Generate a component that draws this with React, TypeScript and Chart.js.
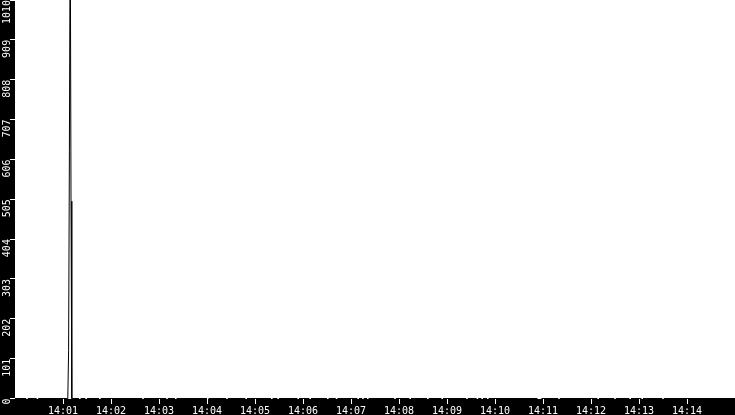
import React, { useEffect, useRef } from "react";
import Chart from "chart.js/auto";

// seconds after 14:00:00 and the value at that second (null = dropout)
const sampleSeconds = [
  0, 14, 15, 16, 27, 28, 29, 66, 67, 68, 69, 70, 71, 80, 81, 82, 88, 89, 90,
  105, 106, 107, 159, 160, 161, 189, 190, 191, 200, 201, 202, 240, 241, 242,
  264, 265, 266, 288, 289, 290, 320, 321, 322, 328, 329, 330, 353, 354, 355,
  368, 369, 370, 390, 391, 392, 401, 402, 403, 428, 429, 430, 434, 435, 436,
  440, 441, 442, 474, 475, 476, 493, 494, 495, 515, 516, 517, 533, 534, 535,
  564, 565, 566, 577, 578, 579, 583, 584, 585, 590, 591, 592, 653, 654, 655,
  656, 657, 658, 679, 680, 681, 728, 729, 730, 749, 750, 751, 768, 769, 770,
  783, 784, 785, 809, 810, 811, 900,
];

const sampleValues: (number | null)[] = [
  0, 0, null, 0, 0, null, 0, 0, 121, 625, 1250, 500, 0, 0, null, 0, 0, null, 0,
  0, null, 0, 0, null, 0, 0, null, 0, 0, null, 0, 0, null, 0,
  0, null, 0, 0, null, 0, 0, null, 0, 0, null, 0, 0, null, 0,
  0, null, 0, 0, null, 0, 0, null, 0, 0, null, 0, 0, null, 0,
  0, null, 0, 0, null, 0, 0, null, 0, 0, null, 0, 0, null, 0,
  0, null, 0, 0, null, 0, 0, null, 0, 0, null, 0, 0, null, 0,
  0, null, 0, 0, null, 0, 0, null, 0, 0, null, 0, 0, null, 0,
  0, null, 0, 0, null, 0, 0,
];

const xTickLabels = [
  "14:01", "14:02", "14:03", "14:04", "14:05", "14:06", "14:07",
  "14:08", "14:09", "14:10", "14:11", "14:12", "14:13", "14:14",
];

const yTicks = [0, 101, 202, 303, 404, 505, 606, 707, 808, 909, 1010];

const plotBackground = {
  id: "plotBackground",
  beforeDraw(chart: Chart) {
    const { ctx, chartArea: a } = chart;
    ctx.save();
    ctx.fillStyle = "#ffffff";
    ctx.fillRect(a.left, a.top, a.right - a.left, a.bottom - a.top);
    ctx.restore();
  },
};

export default function App() {
  const canvasRef = useRef<HTMLCanvasElement>(null);

  useEffect(() => {
    document.body.style.margin = "0";
    if (!canvasRef.current) return;

    const points = sampleSeconds.map((s, i) => ({ x: s, y: sampleValues[i] }));
    const font = { family: "DejaVu Sans Mono", size: 10 };

    const chart = new Chart(canvasRef.current, {
      type: "line",
      data: {
        datasets: [
          {
            data: points,
            borderColor: "#000000",
            borderWidth: 1,
            pointRadius: 0,
            tension: 0,
            spanGaps: false,
          },
        ],
      },
      options: {
        animation: false,
        responsive: true,
        maintainAspectRatio: false,
        layout: { padding: 0 },
        plugins: {
          legend: { display: false },
          tooltip: { enabled: false },
        },
        scales: {
          x: {
            type: "linear",
            min: 0,
            max: 900,
            border: { display: false },
            grid: {
              drawOnChartArea: false,
              drawTicks: true,
              tickLength: 5,
              color: "#ffffff",
            },
            ticks: {
              stepSize: 60,
              color: "#ffffff",
              font,
              padding: 1,
              maxRotation: 0,
              autoSkip: false,
              callback: (v) => xTickLabels[Number(v) / 60 - 1] ?? null,
            },
            afterFit: (scale) => {
              scale.height = 16;
              scale.paddingLeft = 0;
              scale.paddingRight = 0;
            },
          },
          y: {
            min: -1.3,
            max: 1010,
            border: { display: false },
            grid: {
              drawOnChartArea: false,
              drawTicks: true,
              tickLength: 5,
              color: "#ffffff",
            },
            ticks: {
              color: "#ffffff",
              font,
              padding: 3,
              minRotation: 90,
              maxRotation: 90,
              callback: (v) => String(v),
            },
            afterBuildTicks: (scale) => {
              scale.ticks = yTicks.map((v) => ({ value: v }));
            },
            afterFit: (scale) => {
              scale.width = 15;
              scale.paddingTop = 0;
              scale.paddingBottom = 0;
            },
          },
        },
      },
      plugins: [plotBackground],
    });

    return () => chart.destroy();
  }, []);

  return (
    <div style={{ width: 735, height: 415, background: "#000000", position: "relative" }}>
      <canvas ref={canvasRef} />
    </div>
  );
}
